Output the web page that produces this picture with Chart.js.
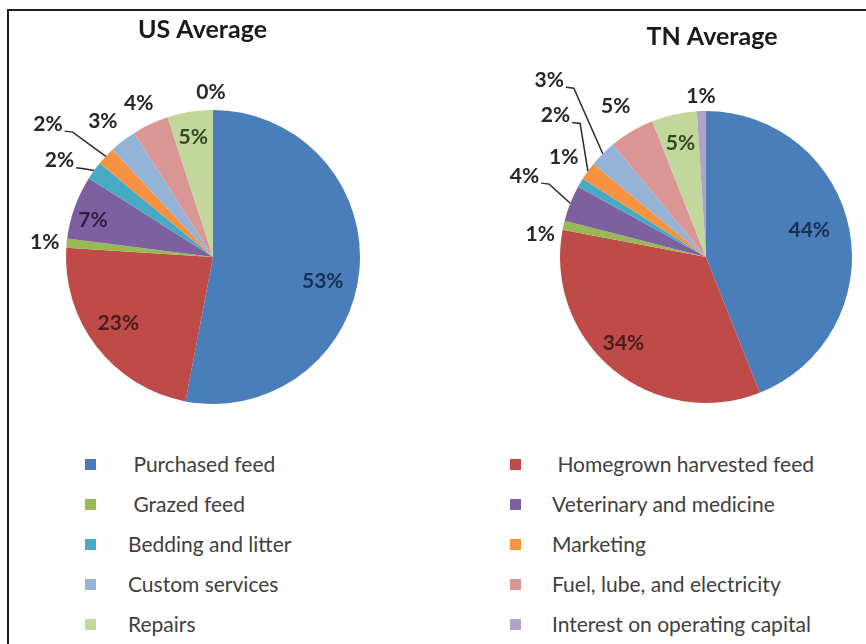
<!DOCTYPE html>
<html><head><meta charset="utf-8">
<script src="https://cdn.jsdelivr.net/npm/chart.js@4.4.1/dist/chart.umd.min.js"></script>
<style>
html,body{margin:0;padding:0;background:#fff;}
body{width:866px;height:644px;position:relative;overflow:hidden;font-family:Lato,sans-serif;}
#frame{position:absolute;left:7px;top:9px;width:900px;height:700px;border-left:2px solid #1e1e1e;border-top:2px solid #1e1e1e;}
canvas{position:absolute;top:0;}
#c1{left:0px;} #c2{left:433px;}
#legend{position:absolute;left:0;top:444px;width:866px;height:200px;}
.item{position:absolute;height:40px;line-height:40px;font-size:21px;color:#404040;white-space:pre;}
.sw{position:absolute;width:11px;height:11px;top:15px;}
</style></head><body>
<div id="frame"></div>
<canvas id="c1" width="433" height="430"></canvas>
<canvas id="c2" width="433" height="430"></canvas>
<div id="legend"></div>
<script>
// ---- data ----
const categories = [" Purchased feed", " Homegrown harvested feed", " Grazed feed", "Veterinary and medicine",
  "Bedding and litter", "Marketing", "Custom services", "Fuel, lube, and electricity", "Repairs",
  "Interest on operating capital"];
const usValues = [53, 23, 1, 7, 2, 2, 3, 4, 5, 0];
const tnValues = [44, 34, 1, 4, 1, 2, 3, 5, 5, 1];
const usTitle = "US Average";
const tnTitle = "TN Average";
const sliceColors = ['#4A7EBB', '#BE4B48', '#98B954', '#7D60A0', '#46AAC5', '#F69240', '#95B3D7', '#D99694', '#C3D69B', '#B3A2C7'];

// ---- label layout (style) ----
const NAVY = '#1c2f4f', DRED = '#4a1c1b', DPUR = '#2b2040', DGRN = '#2f4a1f';
const usLabelLayout = [
  {rf: .75, dx: 0, dy: 14, c: NAVY},
  {rf: .78, dx: -4, dy: -4, c: DRED},
  {rf: 1.15, dx: 0, dy: 1},
  {rf: .86, dx: -1, dy: 6, c: DPUR},
  {rf: 1.3, dx: 1, dy: 16, leader: true},
  {rf: 1.4, dx: -15, dy: 8, leader: true},
  {rf: 1.2, dx: -2, dy: 4},
  {rf: 1.17, dx: -1, dy: 2},
  {rf: .82, dx: -1, dy: -1, c: DGRN},
  {rf: 1.12, dx: -2, dy: 0}
];
const tnLabelLayout = [
  {rf: .72, dx: 0, dy: -7, c: NAVY},
  {rf: .8, dx: -8, dy: -4, c: DRED},
  {rf: 1.17, dx: 1, dy: 14},
  {rf: 1.3, dx: -5, dy: -11, leader: true},
  {rf: 1.1, dx: -4, dy: -18},
  {rf: 1.3, dx: 3, dy: -30, leader: true},
  {rf: 1.5, dx: -2, dy: -22, leader: true},
  {rf: 1.2, dx: -1, dy: 0},
  {rf: .8, dx: 0, dy: 0, c: DGRN},
  {rf: 1.1, dx: 0, dy: 0}
];

const pieLabels = {
  id: 'pieLabels',
  afterDatasetsDraw(chart, args, opts) {
    const ctx = chart.ctx;
    const meta = chart.getDatasetMeta(0);
    const vals = chart.data.datasets[0].data;
    const total = vals.reduce((a, b) => a + b, 0);
    let cx = 0;
    ctx.save();
    ctx.font = 'bold 21px Lato';
    ctx.textAlign = 'center';
    ctx.textBaseline = 'middle';
    meta.data.forEach((arc, i) => {
      const p = arc.getProps(['x', 'y', 'startAngle', 'endAngle', 'outerRadius'], true);
      cx = p.x;
      const mid = (p.startAngle + p.endAngle) / 2;
      const L = opts.layout[i];
      const lx = p.x + Math.cos(mid) * p.outerRadius * L.rf + L.dx;
      const ly = p.y + Math.sin(mid) * p.outerRadius * L.rf + L.dy;
      const text = Math.round(vals[i] / total * 100) + '%';
      if (L.leader) {
        const w = ctx.measureText(text).width;
        const sx = lx + w / 2 + 2, sy = ly + 7;
        const ex = p.x + Math.cos(mid) * p.outerRadius;
        const ey = p.y + Math.sin(mid) * p.outerRadius;
        ctx.beginPath();
        ctx.moveTo(sx, sy);
        ctx.lineTo(sx + 8, sy + 1);
        ctx.lineTo(ex, ey);
        ctx.strokeStyle = '#2a2a2a';
        ctx.lineWidth = 1.5;
        ctx.stroke();
      }
      ctx.fillStyle = L.c || '#262626';
      ctx.fillText(text, lx, ly);
    });
    ctx.font = 'bold 25px Lato';
    ctx.textBaseline = 'alphabetic';
    ctx.fillStyle = '#1a1a1a';
    ctx.fillText(opts.title, cx + opts.titleDx, opts.titleY);
    ctx.restore();
  }
};

function makePie(id, values, layout, title, padding, radius, titleDx, titleY) {
  return new Chart(document.getElementById(id), {
    type: 'pie',
    data: {
      labels: categories.map(s => s.trim()),
      datasets: [{data: values, backgroundColor: sliceColors, borderWidth: 0}]
    },
    options: {
      responsive: false,
      animation: false,
      devicePixelRatio: 1,
      radius: radius,
      layout: {padding: padding},
      plugins: {
        legend: {display: false},
        tooltip: {enabled: false},
        pieLabels: {layout: layout, title: title, titleDx: titleDx, titleY: titleY}
      }
    },
    plugins: [pieLabels]
  });
}

makePie('c1', usValues, usLabelLayout, usTitle, {left: 0, right: 7, top: 84, bottom: 0}, 147, -10.5, 38);
makePie('c2', tnValues, tnLabelLayout, tnTitle, {left: 113, right: 0, top: 84, bottom: 0}, 146, 6, 45);

// ---- HTML legend built from the arrays ----
const legend = document.getElementById('legend');
const colSw = [85, 510], colTx = [128, 552];
categories.forEach((name, i) => {
  const row = Math.floor(i / 2), col = i % 2;
  const sw = document.createElement('div');
  sw.className = 'sw';
  sw.style.left = colSw[col] + 'px';
  sw.style.top = (row * 40 + 15) + 'px';
  sw.style.background = sliceColors[i];
  legend.appendChild(sw);
  const t = document.createElement('div');
  t.className = 'item';
  t.style.left = colTx[col] + 'px';
  t.style.top = (row * 40) + 'px';
  t.textContent = name;
  legend.appendChild(t);
});
</script>
</body></html>
